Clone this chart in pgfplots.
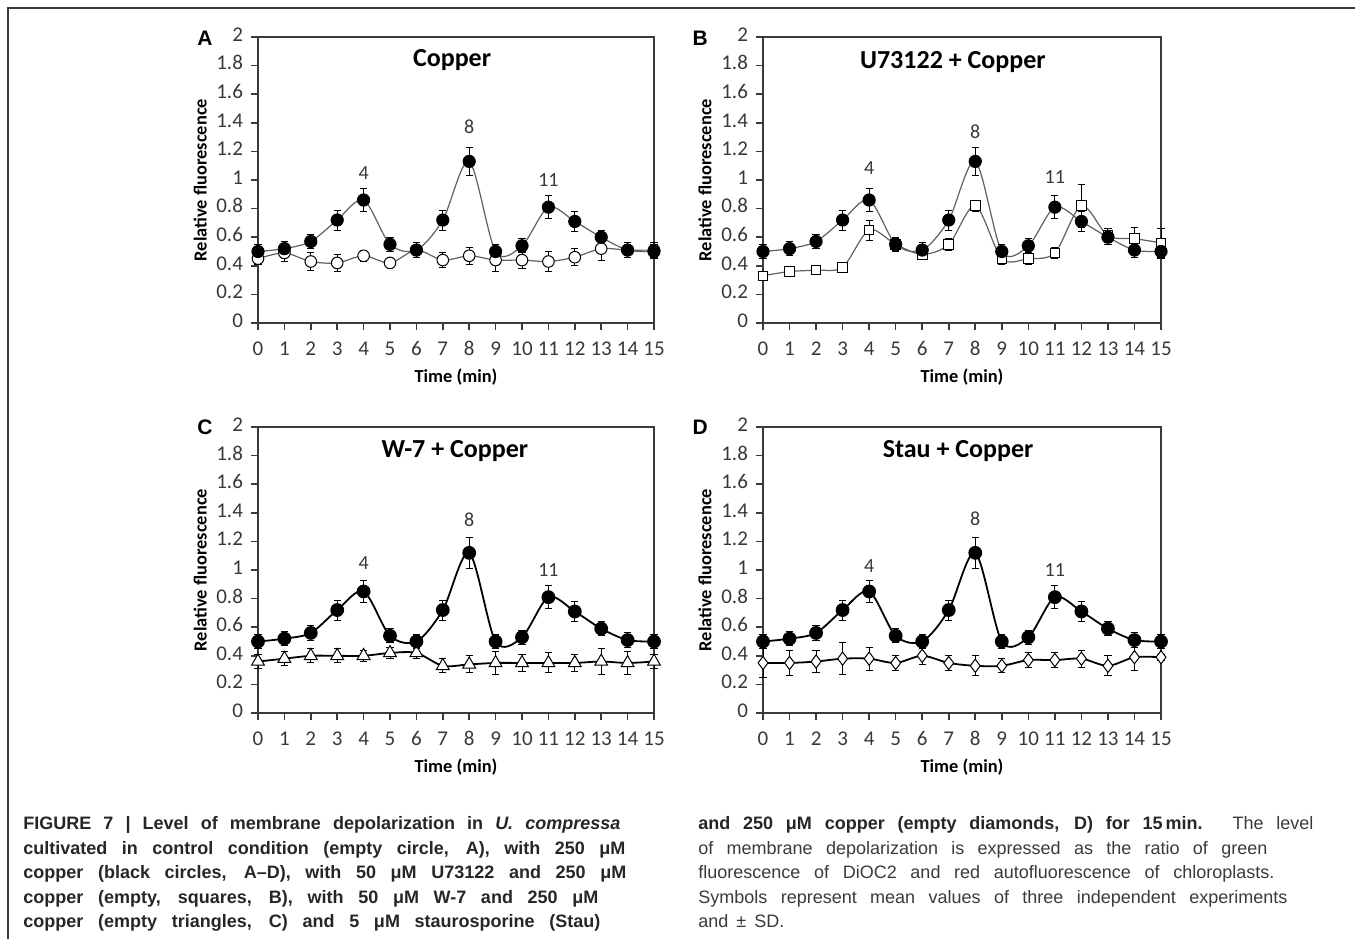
\documentclass[border=0pt]{standalone}
\usepackage{fontspec}
\setmainfont{Carlito}
\newfontfamily\capfont{Liberation Sans}
\usepackage{pgfplots}
\pgfplotsset{compat=1.18}
\usepackage{pgfplotstable}

\definecolor{axisgray}{HTML}{3A3A3A}
\definecolor{tickgray}{HTML}{383838}
\definecolor{linegray}{HTML}{606060}
\definecolor{capgray}{HTML}{3A3A3A}

% copper (filled circles), x y err
\pgfplotstableread{
x y e
0 0.50 0.05
1 0.52 0.05
2 0.57 0.05
3 0.72 0.07
4 0.86 0.08
5 0.55 0.05
6 0.51 0.05
7 0.72 0.07
8 1.13 0.10
9 0.50 0.05
10 0.54 0.05
11 0.81 0.08
12 0.71 0.07
13 0.60 0.05
14 0.51 0.05
15 0.50 0.05
}\copperAB
\pgfplotstableread{
x y e
0 0.50 0.05
1 0.52 0.05
2 0.56 0.05
3 0.72 0.07
4 0.85 0.08
5 0.54 0.05
6 0.50 0.05
7 0.72 0.07
8 1.12 0.11
9 0.50 0.05
10 0.53 0.05
11 0.81 0.08
12 0.71 0.07
13 0.59 0.05
14 0.51 0.05
15 0.50 0.05
}\copperCD
\pgfplotstableread{
x y e
0 0.45 0.04
1 0.49 0.06
2 0.43 0.06
3 0.42 0.06
4 0.47 0.04
5 0.42 0.02
6 0.51 0.05
7 0.44 0.05
8 0.47 0.06
9 0.44 0.08
10 0.44 0.06
11 0.43 0.07
12 0.46 0.06
13 0.52 0.08
14 0.51 0.05
15 0.51 0.05
}\control
\pgfplotstableread{
x y e
0 0.33 0.03
1 0.36 0.02
2 0.37 0.02
3 0.39 0.02
4 0.65 0.07
5 0.55 0.04
6 0.48 0.02
7 0.55 0.04
8 0.82 0.04
9 0.45 0.04
10 0.45 0.04
11 0.49 0.04
12 0.82 0.15
13 0.61 0.05
14 0.59 0.08
15 0.56 0.10
}\uthree
\pgfplotstableread{
x y e
0 0.36 0.05
1 0.38 0.05
2 0.40 0.05
3 0.40 0.05
4 0.40 0.04
5 0.42 0.04
6 0.42 0.04
7 0.33 0.05
8 0.34 0.06
9 0.35 0.08
10 0.35 0.06
11 0.35 0.07
12 0.35 0.06
13 0.36 0.09
14 0.35 0.08
15 0.36 0.05
}\wseven
\pgfplotstableread{
x y e
0 0.35 0.10
1 0.35 0.09
2 0.36 0.08
3 0.38 0.11
4 0.38 0.08
5 0.35 0.05
6 0.40 0.06
7 0.35 0.05
8 0.33 0.07
9 0.33 0.05
10 0.37 0.05
11 0.37 0.05
12 0.38 0.06
13 0.33 0.07
14 0.39 0.09
15 0.39 0.02
}\stau

\pgfplotsset{
  panel/.style={
    scale only axis, width=198pt, height=143pt,
    xmin=0, xmax=15, ymin=0, ymax=2,
    xtick={0,...,15},
    ytick={0,0.2,0.4,0.6,0.8,1,1.2,1.4,1.6,1.8,2},
    yticklabels={0,0.2,0.4,0.6,0.8,1,1.2,1.4,1.6,1.8,2},
    tick align=outside, xtick pos=left, ytick pos=left,
    major tick length=3.5pt,
    axis line style={axisgray, line width=0.8pt},
    every tick/.style={axisgray, line width=0.8pt},
    tick label style={font=\fontsize{10.5}{11}\selectfont, text=tickgray},
    /pgf/number format/assume math mode=true,
    typeset ticklabels with strut,
    xticklabel style={yshift=-1.5pt},
    yticklabel style={xshift=-0.5pt},
    xlabel={\textbf{Time (min)}},
    ylabel={\textbf{Relative fluorescence}},
    label style={font=\fontsize{9.2}{10}\selectfont},
    xlabel style={at={(axis description cs:0.5,-0.189)}, anchor=center},
    ylabel style={at={(axis description cs:-0.146,0.5)}, anchor=center},
    clip=false,
    error bars/y dir=both, error bars/y explicit,
    error bars/error bar style={black, line width=0.5pt},
    error bars/error mark options={rotate=90, mark size=1.8pt, black, line width=0.5pt},
  },
  thinline/.style={linegray, line width=0.6pt, smooth},
  thickline/.style={black, line width=0.9pt, smooth},
}

\newcommand{\paneltitle}[3]{\node[font=\fontsize{13}{14}\selectfont\bfseries, anchor=center] at (axis description cs:#1,#2) {#3};}
\newcommand{\peak}[3]{\node[font=\fontsize{10}{10}\selectfont, text=tickgray, anchor=center] at (axis cs:#1,#2) {#3};}

\begin{document}
\begin{tikzpicture}
\path[use as bounding box] (0,0) rectangle (677.5pt,469.5pt);
% page frame
\draw[capgray, line width=0.8pt] (4pt,0) -- (4pt,465.5pt) -- (677.5pt,465.5pt);

% ---------- A ----------
\begin{axis}[panel, at={(129pt,308pt)}, anchor=south west]
\addplot[thinline, mark=*, mark size=2.9pt, mark options={fill=white, draw=black, line width=0.5pt}]
  table[x=x, y=y, y error=e] {\control};
\addplot[thinline, mark=*, mark size=3pt, mark options={fill=black, draw=black}]
  table[x=x, y=y, y error=e] {\copperAB};
\paneltitle{0.49}{0.92}{Copper}
\peak{4}{1.05}{4}\peak{8}{1.37}{8}\peak{11}{1.0}{11}
\node[font=\capfont\fontsize{10.5}{10}\selectfont\bfseries] at (axis description cs:-0.134,0.997) {A};
\end{axis}

% ---------- B ----------
\begin{axis}[panel, width=199pt, at={(381.5pt,308pt)}, anchor=south west]
\addplot[thinline, mark=square*, mark size=2.4pt, mark options={fill=white, draw=black, line width=0.5pt}]
  table[x=x, y=y, y error=e] {\uthree};
\addplot[thinline, mark=*, mark size=3pt, mark options={fill=black, draw=black}]
  table[x=x, y=y, y error=e] {\copperAB};
\paneltitle{0.477}{0.913}{U73122 + Copper}
\peak{4}{1.08}{4}\peak{8}{1.34}{8}\peak{11}{1.02}{11}
\node[font=\capfont\fontsize{10.5}{10}\selectfont\bfseries] at (axis description cs:-0.158,0.997) {B};
\end{axis}

% ---------- C ----------
\begin{axis}[panel, at={(129pt,113pt)}, anchor=south west]
\addplot[thickline, mark=triangle*, mark size=3.7pt, mark options={fill=white, draw=black, line width=0.5pt}]
  table[x=x, y=y, y error=e] {\wseven};
\addplot[thickline, mark=*, mark size=3pt, mark options={fill=black, draw=black}]
  table[x=x, y=y, y error=e] {\copperCD};
\paneltitle{0.497}{0.916}{W-7 + Copper}
\peak{4}{1.05}{4}\peak{8}{1.35}{8}\peak{11}{1.0}{11}
\node[font=\capfont\fontsize{10.5}{10}\selectfont\bfseries] at (axis description cs:-0.134,1.0) {C};
\end{axis}

% ---------- D ----------
\begin{axis}[panel, width=199pt, at={(381.5pt,113pt)}, anchor=south west]
\addplot[thickline, mark=diamond*, mark size=3.3pt, mark options={fill=white, draw=black, line width=0.5pt}]
  table[x=x, y=y, y error=e] {\stau};
\addplot[thickline, mark=*, mark size=3pt, mark options={fill=black, draw=black}]
  table[x=x, y=y, y error=e] {\copperCD};
\paneltitle{0.49}{0.916}{Stau + Copper}
\peak{4}{1.03}{4}\peak{8}{1.36}{8}\peak{11}{1.0}{11}
\node[font=\capfont\fontsize{10.5}{10}\selectfont\bfseries] at (axis description cs:-0.158,1.0) {D};
\end{axis}

% ---------- caption ----------
\begin{scope}[every node/.style={anchor=base west, inner sep=0pt, font=\capfont\fontsize{9}{11}\selectfont}]
\node[text=black!85] at (11.5pt,54.8pt) {\bfseries\makebox[298.5pt][s]{FIGURE 7 | Level of membrane depolarization in \itshape U. compressa}};
\node[text=black!85] at (11.5pt,42.5pt) {\bfseries\makebox[301pt][s]{cultivated in control condition (empty circle, A), with 250 μM}};
\node[text=black!85] at (11.5pt,30.2pt) {\bfseries\makebox[301.5pt][s]{copper (black circles, A–D), with 50 μM U73122 and 250 μM}};
\node[text=black!85] at (11.5pt,17.9pt) {\bfseries\makebox[287.5pt][s]{copper (empty, squares, B), with 50 μM W-7 and 250 μM}};
\node[text=black!85] at (11.5pt,5.6pt) {\bfseries\makebox[288.5pt][s]{copper (empty triangles, C) and 5 μM staurosporine (Stau)}};
\node[text=capgray] at (349pt,54.8pt) {\makebox[307.5pt][s]{\textbf{\color{black!85}and 250 μM copper (empty diamonds, D) for 15\,min.} The level}};
\node[text=capgray] at (349pt,42.5pt) {\makebox[284.5pt][s]{of membrane depolarization is expressed as the ratio of green}};
\node[text=capgray] at (349pt,30.2pt) {\makebox[288pt][s]{fluorescence of DiOC2 and red autofluorescence of chloroplasts.}};
\node[text=capgray] at (349pt,17.9pt) {\makebox[294.5pt][s]{Symbols represent mean values of three independent experiments}};
\node[text=capgray] at (349pt,5.6pt) {and \,±\, SD.};
\end{scope}
\end{tikzpicture}
\end{document}
